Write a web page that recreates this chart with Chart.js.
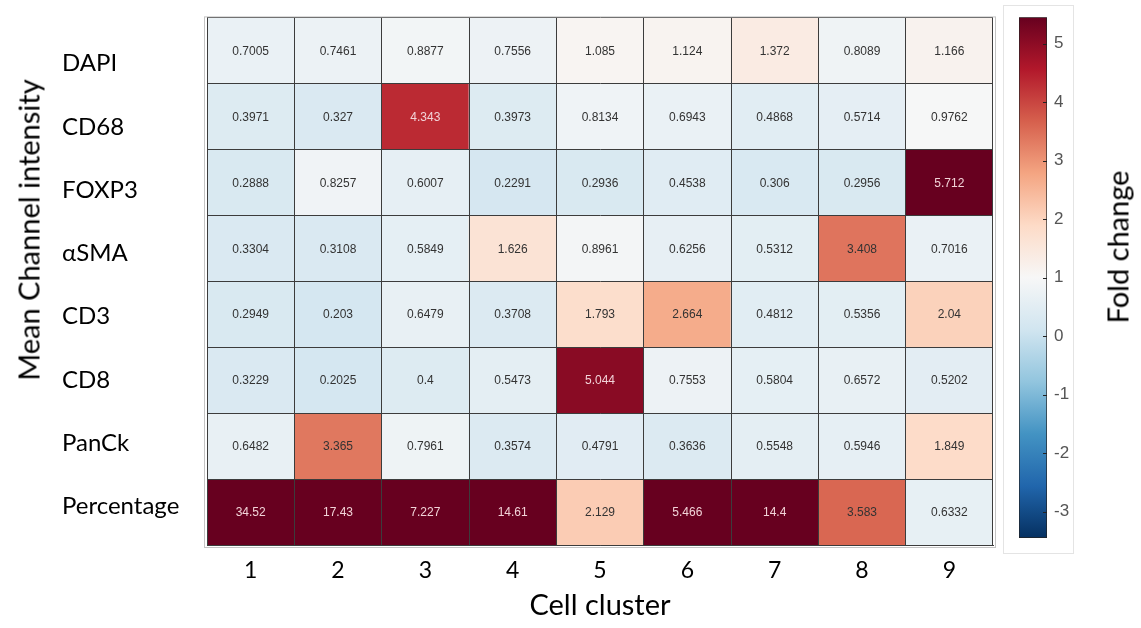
<!DOCTYPE html>
<html>
<head>
<meta charset="utf-8">
<script src="https://cdn.jsdelivr.net/npm/chart.js@4.4.0/dist/chart.umd.min.js"></script>
<style>
  html, body { margin: 0; padding: 0; background: #fff; }
  body { width: 1141px; height: 628px; position: relative; overflow: hidden; font-family: Lato, sans-serif; }
  #heat { position: absolute; left: 0; top: 0; }
  #bar { position: absolute; left: 1000px; top: 0; }
  .cbBox { position: absolute; left: 1003px; top: 5px; width: 69px; height: 547px; border: 1px solid #e4e4e4; }
  .vtitle { position: absolute; transform: translate(-50%, -50%) rotate(-90deg); white-space: nowrap; font-size: 29px; color: #000; }
</style>
</head>
<body>
<div class="cbBox"></div>
<canvas id="heat" width="1000" height="628"></canvas>
<canvas id="bar" width="100" height="628"></canvas>
<div class="vtitle" style="left:28px; top:230px;">Mean Channel intensity</div>
<div class="vtitle" style="left:1117px; top:247px;">Fold change</div>
<script>
const clusters = ['1', '2', '3', '4', '5', '6', '7', '8', '9'];
const markers = ['DAPI', 'CD68', 'FOXP3', 'αSMA', 'CD3', 'CD8', 'PanCk', 'Percentage'];

// fold change per cell cluster, one list per marker row
const dapi = [0.7005, 0.7461, 0.8877, 0.7556, 1.085, 1.124, 1.372, 0.8089, 1.166];
const cd68 = [0.3971, 0.327, 4.343, 0.3973, 0.8134, 0.6943, 0.4868, 0.5714, 0.9762];
const foxp3 = [0.2888, 0.8257, 0.6007, 0.2291, 0.2936, 0.4538, 0.306, 0.2956, 5.712];
const asma = [0.3304, 0.3108, 0.5849, 1.626, 0.8961, 0.6256, 0.5312, 3.408, 0.7016];
const cd3 = [0.2949, 0.203, 0.6479, 0.3708, 1.793, 2.664, 0.4812, 0.5356, 2.04];
const cd8 = [0.3229, 0.2025, 0.4, 0.5473, 5.044, 0.7553, 0.5804, 0.6572, 0.5202];
const panck = [0.6482, 3.365, 0.7961, 0.3574, 0.4791, 0.3636, 0.5548, 0.5946, 1.849];
const percentage = [34.52, 17.43, 7.227, 14.61, 2.129, 5.466, 14.4, 3.583, 0.6332];
const rows = [dapi, cd68, foxp3, asma, cd3, cd8, panck, percentage];

// colour bar
const foldRange = [-3.45, 5.45];
const colorTicks = [5, 4, 3, 2, 1, 0, -1, -2, -3];

// RdBu, blue -> red
const rdbu = ['#053061', '#2166ac', '#4393c3', '#92c5de', '#d1e5f0', '#f7f7f7',
  '#fddbc7', '#f4a582', '#d6604d', '#b2182b', '#67001f'];

function foldT(v) {
  const t = (v - foldRange[0]) / (foldRange[1] - foldRange[0]);
  return Math.min(1, Math.max(0, t));
}

function hexRgb(h) {
  return [1, 3, 5].map(i => parseInt(h.slice(i, i + 2), 16));
}

function foldColor(v) {
  const t = foldT(v) * (rdbu.length - 1);
  const i = Math.min(Math.floor(t), rdbu.length - 2);
  const f = t - i;
  const a = hexRgb(rdbu[i]), b = hexRgb(rdbu[i + 1]);
  const c = a.map((x, k) => Math.round(x + (b[k] - x) * f));
  return 'rgb(' + c.join(',') + ')';
}

const uiFont = 'Lato, "Open Sans", sans-serif';
const numFont = '"Liberation Sans", Arial, sans-serif';
const lineColor = '#3c3c3c';

const cellText = {
  id: 'cellText',
  afterDatasetsDraw(chart) {
    const ctx = chart.ctx;
    ctx.save();
    ctx.font = '12px ' + numFont;
    ctx.textAlign = 'center';
    ctx.textBaseline = 'middle';
    rows.forEach((vals, r) => {
      chart.getDatasetMeta(r).data.forEach((bar, c) => {
        const p = bar.getCenterPoint();
        ctx.fillStyle = foldT(vals[c]) > 0.85 ? '#f2d3d8' : '#333';
        ctx.fillText(String(vals[c]), p.x, p.y + 1);
      });
    });
    ctx.restore();
  }
};

const outerFrame = {
  id: 'outerFrame',
  afterDraw(chart) {
    const a = chart.chartArea;
    const ctx = chart.ctx;
    ctx.save();
    ctx.strokeStyle = '#c4c4c4';
    ctx.lineWidth = 1;
    ctx.strokeRect(a.left - 2.5, a.top - 0.5, a.width + 5, a.height + 3);
    ctx.restore();
  }
};

// short inward tick marks on the colour bar
const innerTicks = {
  id: 'innerTicks',
  afterDatasetsDraw(chart) {
    const s = chart.scales.y;
    const a = chart.chartArea;
    const ctx = chart.ctx;
    ctx.save();
    ctx.strokeStyle = '#222';
    ctx.lineWidth = 1;
    colorTicks.forEach(v => {
      const y = Math.round(s.getPixelForValue(v)) + 0.5;
      ctx.beginPath();
      ctx.moveTo(a.right - 4, y);
      ctx.lineTo(a.right, y);
      ctx.stroke();
    });
    ctx.restore();
  }
};

new Chart(document.getElementById('heat'), {
  type: 'bar',
  data: {
    labels: clusters,
    datasets: rows.map((vals, r) => ({
      label: markers[r],
      data: vals.map(() => [r, r + 1]),
      backgroundColor: vals.map(foldColor),
      borderWidth: 0,
      barPercentage: 1,
      categoryPercentage: 1,
      grouped: false
    }))
  },
  options: {
    responsive: false,
    animation: false,
    layout: { padding: { left: 62, top: 10, right: 7, bottom: 0 } },
    plugins: { legend: { display: false }, tooltip: { enabled: false } },
    scales: {
      x: {
        type: 'category',
        offset: true,
        grid: { offset: true, color: lineColor, drawTicks: false, z: 1 },
        border: { color: lineColor, z: 1 },
        ticks: { color: '#000', font: { family: uiFont, size: 23 }, padding: 12 },
        title: {
          display: true, text: 'Cell cluster', color: '#000',
          font: { family: uiFont, size: 29 }, padding: { top: 0, bottom: 5 }
        },
        afterFit(s) { s.height = 83; }
      },
      y: {
        type: 'linear',
        min: 0,
        max: markers.length,
        reverse: true,
        weight: 0,
        grid: { color: lineColor, drawTicks: false, z: 1 },
        border: { color: lineColor, z: 1 },
        ticks: { display: false, stepSize: 1 },
        afterFit(s) { s.width = 0; }
      },
      yLab: {
        type: 'linear',
        axis: 'y',
        position: 'left',
        weight: 1,
        reverse: true,
        min: -0.731,
        max: 7.607,
        grid: { display: false, drawTicks: false },
        border: { display: false },
        afterBuildTicks(s) { s.ticks = markers.map((m, i) => ({ value: i })); },
        ticks: {
          autoSkip: false,
          crossAlign: 'far',
          color: '#000',
          font: { family: uiFont, size: 24 },
          callback: (v, i) => markers[i]
        },
        afterFit(s) { s.width = 145; }
      }
    }
  },
  plugins: [cellText, outerFrame]
});

new Chart(document.getElementById('bar'), {
  type: 'bar',
  data: {
    labels: [''],
    datasets: [{
      data: [foldRange],
      backgroundColor(c) {
        const area = c.chart.chartArea;
        if (!area) return null;
        const g = c.chart.ctx.createLinearGradient(0, area.bottom, 0, area.top);
        rdbu.forEach((col, i) => g.addColorStop(i / (rdbu.length - 1), col));
        return g;
      },
      borderColor: '#222',
      borderWidth: 1,
      borderSkipped: false,
      barPercentage: 1,
      categoryPercentage: 1
    }]
  },
  options: {
    responsive: false,
    animation: false,
    layout: { padding: { left: 19, top: 15, right: 0, bottom: 90 } },
    plugins: { legend: { display: false }, tooltip: { enabled: false } },
    scales: {
      x: { display: false },
      y: {
        position: 'right',
        min: foldRange[0],
        max: foldRange[1],
        grid: { display: false, drawTicks: false },
        border: { display: false },
        afterBuildTicks(s) { s.ticks = colorTicks.map(v => ({ value: v })); },
        ticks: { color: '#555', font: { family: numFont, size: 17 }, padding: 7 },
        afterFit(s) { s.width = 53; }
      }
    }
  },
  plugins: [innerTicks]
});
</script>
</body>
</html>
